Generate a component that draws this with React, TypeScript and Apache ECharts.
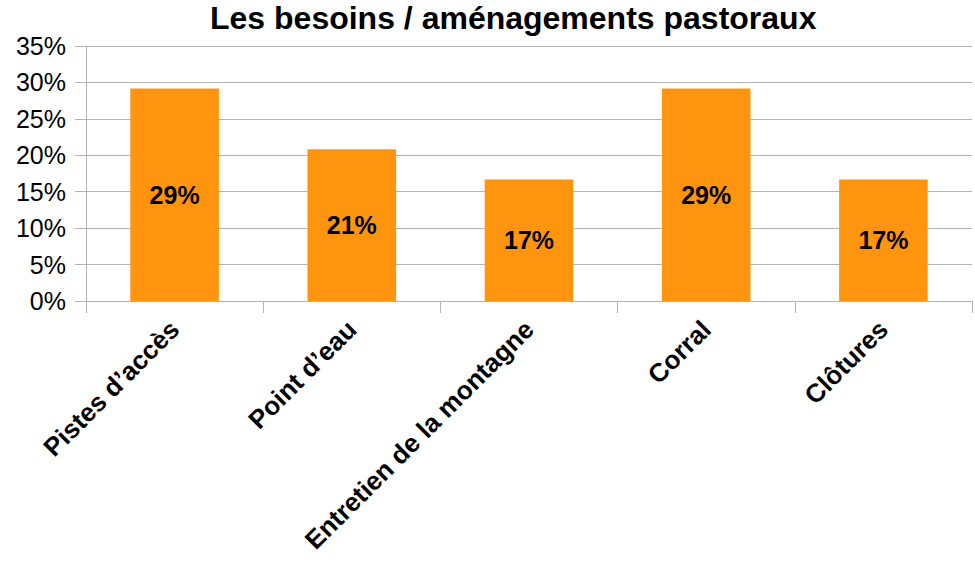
import React, { useEffect, useRef } from "react";
import * as echarts from "echarts";

const categories = ["Pistes d’accès", "Point d’eau", "Entretien de la montagne", "Corral", "Clôtures"];
const values = [29.17, 20.83, 16.67, 29.17, 16.67];
const yTicks = { min: 0, max: 35, interval: 5 };

export default function App() {
  const ref = useRef<HTMLDivElement>(null);
  useEffect(() => {
    const chart = echarts.init(ref.current!, null, { renderer: "svg" });
    chart.setOption({
      animation: false,
      backgroundColor: "#ffffff",
      textStyle: { fontFamily: "Liberation Sans" },
      title: {
        text: "Les besoins / aménagements pastoraux",
        left: 180,
        top: 0,
        padding: [2, 30, 3, 30],
        backgroundColor: "#ffffff",
        textStyle: { fontFamily: "Liberation Sans", fontWeight: "bold", fontSize: 32, color: "#000" },
      },
      grid: { left: 86, right: 3, top: 46, bottom: 263, containLabel: false, outerBoundsMode: "none" },
      xAxis: {
        type: "category",
        data: categories,
        axisLine: { show: true, lineStyle: { color: "#b3b3b3", width: 1 } },
        axisTick: { show: true, length: 12, lineStyle: { color: "#b3b3b3" } },
        axisLabel: {
          rotate: 45,
          interval: 0,
          margin: 24,
          fontSize: 26,
          fontWeight: "bold",
          color: "#000",
          fontFamily: "Liberation Sans",
        },
      },
      yAxis: {
        type: "value",
        min: yTicks.min,
        max: yTicks.max,
        interval: yTicks.interval,
        axisLine: { show: true, lineStyle: { color: "#b3b3b3", width: 1 } },
        axisTick: { show: true, length: 11, lineStyle: { color: "#b3b3b3" } },
        splitLine: { show: true, lineStyle: { color: "#b3b3b3", width: 1 } },
        axisLabel: {
          formatter: (v: number) => v + "%",
          fontSize: 25,
          color: "#000",
          margin: 20,
          fontFamily: "Liberation Sans",
        },
      },
      series: [
        {
          type: "bar",
          data: values,
          barWidth: "50%",
          itemStyle: { color: "#ff950e" },
          label: {
            show: true,
            position: "inside",
            formatter: (p: any) => Math.round(p.value) + "%",
            fontSize: 25,
            fontWeight: "bold",
            color: "#000",
            fontFamily: "Liberation Sans",
          },
        },
      ],
    });
    return () => chart.dispose();
  }, []);
  return <div ref={ref} style={{ width: 975, height: 564, position: "absolute", left: 0, top: 0 }} />;
}
